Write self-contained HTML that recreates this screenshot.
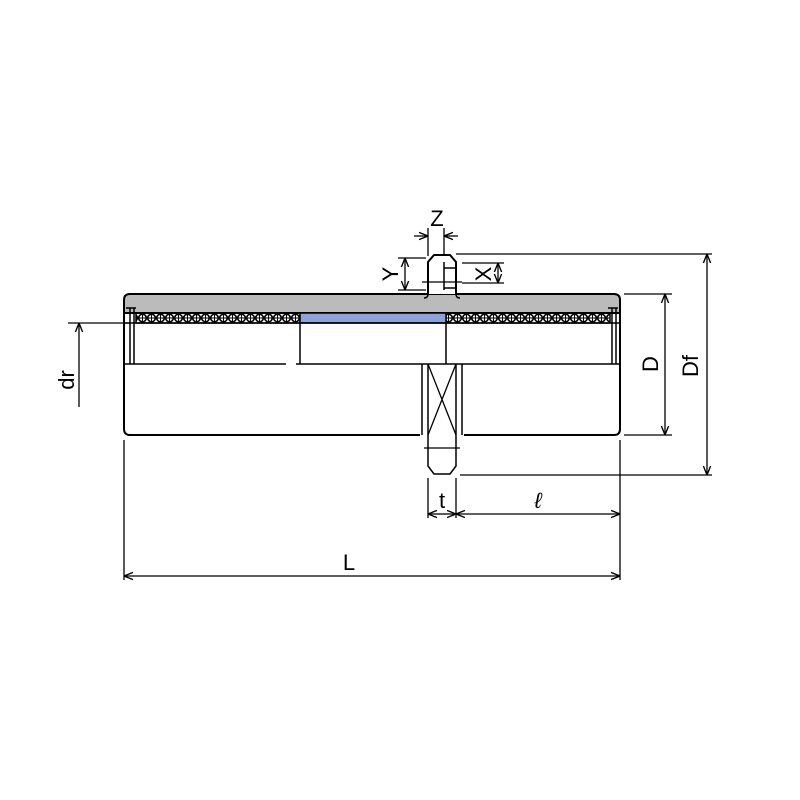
<!DOCTYPE html>
<html><head><style>body{margin:0;background:#fff}svg{display:block}</style></head><body>
<svg width="800" height="800" viewBox="0 0 800 800" xmlns="http://www.w3.org/2000/svg" font-family="Liberation Sans, sans-serif">
<defs>
<marker id="a" viewBox="0 0 10 10" refX="10" refY="5" markerWidth="7" markerHeight="7" orient="auto-start-reverse"><path d="M0,1 L10,5 L0,9" fill="none" stroke="#000" stroke-width="1.5"/></marker>
<pattern id="balls" x="138" y="313" width="9" height="10" patternUnits="userSpaceOnUse"><circle cx="4.5" cy="5" r="3.8" fill="#fff" stroke="#000" stroke-width="1.6"/><path d="M4.5,1.5v7M1,5h7" stroke="#000" stroke-width="1"/></pattern>
</defs>
<g stroke="#000" stroke-width="2" fill="none">
<path d="M124,313 V300 Q124,294 130,294 H614 Q620,294 620,300 V313 Z" fill="#bbb"/>
<path d="M428,294 V262 L434,255 H450 L456,262 V294" fill="#fff"/>
<path d="M428,294 Q428,298 424,298 M456,294 Q456,298 460,298" stroke-width="1.5"/>
<path d="M444,262 V290 M444,268 H456 M444,288 H456" stroke-width="1.5"/>
<path d="M422,282 H462" stroke-width="1.2"/>
<rect x="136" y="313" width="164" height="10" fill="url(#balls)" stroke-width="1.5"/>
<rect x="446" y="313" width="164" height="10" fill="url(#balls)" stroke-width="1.5"/>
<rect x="300" y="313" width="146" height="10" fill="#8fa1d6" stroke-width="1.5"/>
<path d="M124,300 V429 Q124,435 130,435 H420 M464,435 H614 Q620,435 620,429 V300"/>
<path d="M124,323 H620" stroke-width="1.5"/>
<path d="M130,308 V364 M134,308 V364 M612,308 V364 M616,308 V364" stroke-width="1.5"/>
<path d="M126,308 H136 M608,308 H618" stroke-width="1.5"/>
<path d="M124,364 H286 M296,364 H620" stroke-width="1.5"/>
<path d="M300,323 V364 M446,323 V364" stroke-width="1.5"/>
<path d="M422,364 V435 M428,364 V435 M456,364 V435 M462,364 V435" stroke-width="1.5"/>
<path d="M428,364 L456,435 M456,364 L428,435" stroke-width="1.3"/>
<path d="M428,435 V466 L434,474 H450 L456,466 V435" stroke-width="1.5"/>
<path d="M424,448 H460 M438,448 H446" stroke-width="1.2"/>
</g>
<g stroke="#000" stroke-width="1.3" fill="none">
<path d="M428,256 V228 M444,256 V228"/>
<path d="M414,236 H428" marker-end="url(#a)"/><path d="M458,236 H444" marker-end="url(#a)"/>
<path d="M398,258 H426 M398,290 H426"/>
<path d="M405,274 V258" marker-end="url(#a)"/><path d="M405,274 V290" marker-end="url(#a)"/>
<path d="M462,263 H504 M462,283 H504"/>
<path d="M498,273 V263" marker-end="url(#a)"/><path d="M498,273 V283" marker-end="url(#a)"/>
<path d="M456,254 H712 M460,475 H712"/>
<path d="M707,364 V254" marker-end="url(#a)"/><path d="M707,364 V475" marker-end="url(#a)"/>
<path d="M624,294 H672 M624,435 H672"/>
<path d="M665,364 V294" marker-end="url(#a)"/><path d="M665,364 V435" marker-end="url(#a)"/>
<path d="M68,323 H130"/>
<path d="M79,407 V323" marker-end="url(#a)"/>
<path d="M124,440 V580 M620,440 V580 M428,478 V518 M456,478 V518"/>
<path d="M372,576 H124" marker-end="url(#a)"/><path d="M372,576 H620" marker-end="url(#a)"/>
<path d="M442,514 H428" marker-end="url(#a)"/><path d="M442,514 H456" marker-end="url(#a)"/>
<path d="M540,514 H456" marker-end="url(#a)"/><path d="M540,514 H620" marker-end="url(#a)"/>
</g>
<g font-size="22" fill="#000">
<text x="437" y="226" text-anchor="middle">Z</text>
<text x="390" y="274" text-anchor="middle" transform="rotate(-90 390 274)" dy="8">Y</text>
<text x="483" y="274" text-anchor="middle" transform="rotate(-90 483 274)" dy="8">X</text>
<text x="650" y="364" text-anchor="middle" transform="rotate(-90 650 364)" dy="8">D</text>
<text x="690" y="366" text-anchor="middle" transform="rotate(-90 690 366)" dy="8">Df</text>
<text x="66" y="380" text-anchor="middle" transform="rotate(-90 66 380)" dy="8">dr</text>
<text x="349" y="570" text-anchor="middle">L</text>
<text x="442" y="508" text-anchor="middle">t</text>
<text x="538" y="508" text-anchor="middle" font-style="italic">ℓ</text>
</g>
</svg>
</body></html>
